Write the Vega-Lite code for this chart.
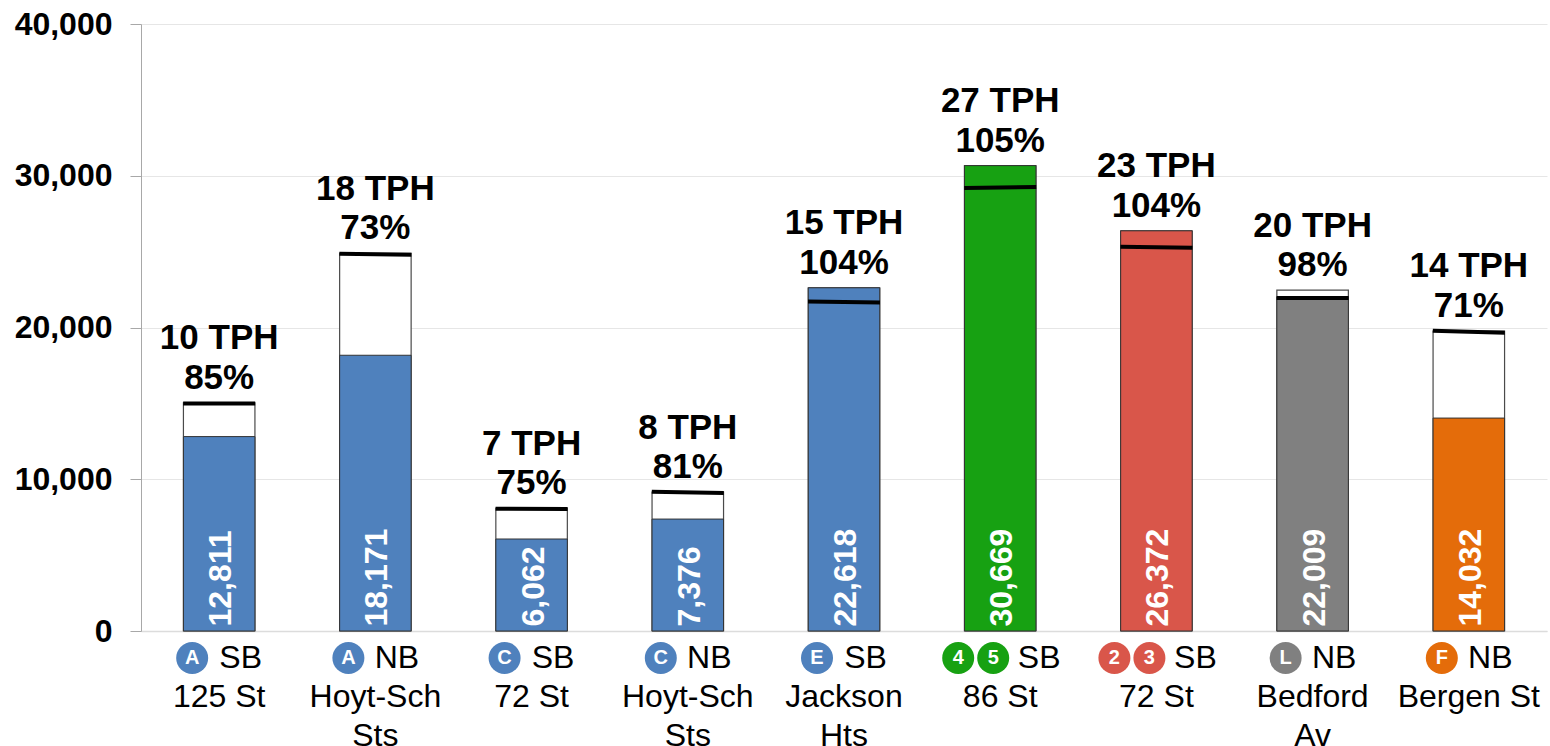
{
  "$schema": "https://vega.github.io/schema/vega-lite/v6.json",
  "width": 1406,
  "height": 607,
  "autosize": "none",
  "padding": {"left": 141, "top": 24, "right": 3, "bottom": 115},
  "background": "white",
  "config": {"font": "Liberation Sans", "view": {"stroke": null}},
  "datasets": {
    "stops": [
      {"stop": "A SB|125 St", "group": "ACE", "dir": "SB", "routes": 1, "load": 12811, "top": 15030, "note": "10 TPH\n85%"},
      {"stop": "A NB|Hoyt-Sch|Sts", "group": "ACE", "dir": "NB", "routes": 1, "load": 18171, "top": 24892, "note": "18 TPH\n73%"},
      {"stop": "C SB|72 St", "group": "ACE", "dir": "SB", "routes": 1, "load": 6062, "top": 8083, "note": "7 TPH\n75%"},
      {"stop": "C NB|Hoyt-Sch|Sts", "group": "ACE", "dir": "NB", "routes": 1, "load": 7376, "top": 9150, "note": "8 TPH\n81%"},
      {"stop": "E SB|Jackson|Hts", "group": "ACE", "dir": "SB", "routes": 1, "load": 22618, "top": 22618, "note": "15 TPH\n104%"},
      {"stop": "45 SB|86 St", "group": "45", "dir": "SB", "routes": 2, "load": 30669, "top": 30669, "note": "27 TPH\n105%"},
      {"stop": "23 SB|72 St", "group": "23", "dir": "SB", "routes": 2, "load": 26372, "top": 26372, "note": "23 TPH\n104%"},
      {"stop": "L NB|Bedford|Av", "group": "L", "dir": "NB", "routes": 1, "load": 22009, "top": 22458, "note": "20 TPH\n98%"},
      {"stop": "F NB|Bergen St", "group": "F", "dir": "NB", "routes": 1, "load": 14032, "top": 19770, "note": "14 TPH\n71%"}
    ],
    "guideline": [
      {"stop": "A SB|125 St", "edge": "left", "riders": 15000},
      {"stop": "A SB|125 St", "edge": "right", "riders": 15000},
      {"stop": "A NB|Hoyt-Sch|Sts", "edge": "left", "riders": 24860},
      {"stop": "A NB|Hoyt-Sch|Sts", "edge": "right", "riders": 24790},
      {"stop": "C SB|72 St", "edge": "left", "riders": 8060},
      {"stop": "C SB|72 St", "edge": "right", "riders": 8040},
      {"stop": "C NB|Hoyt-Sch|Sts", "edge": "left", "riders": 9180},
      {"stop": "C NB|Hoyt-Sch|Sts", "edge": "right", "riders": 9100},
      {"stop": "E SB|Jackson|Hts", "edge": "left", "riders": 21710},
      {"stop": "E SB|Jackson|Hts", "edge": "right", "riders": 21640},
      {"stop": "45 SB|86 St", "edge": "left", "riders": 29200},
      {"stop": "45 SB|86 St", "edge": "right", "riders": 29260},
      {"stop": "23 SB|72 St", "edge": "left", "riders": 25320},
      {"stop": "23 SB|72 St", "edge": "right", "riders": 25250},
      {"stop": "L NB|Bedford|Av", "edge": "left", "riders": 21950},
      {"stop": "L NB|Bedford|Av", "edge": "right", "riders": 21950},
      {"stop": "F NB|Bergen St", "edge": "left", "riders": 19780},
      {"stop": "F NB|Bergen St", "edge": "right", "riders": 19650}
    ],
    "badges": [
      {"stop": "A SB|125 St", "group": "ACE", "route": "A", "seat": "only", "base": 0},
      {"stop": "A NB|Hoyt-Sch|Sts", "group": "ACE", "route": "A", "seat": "only", "base": 0},
      {"stop": "C SB|72 St", "group": "ACE", "route": "C", "seat": "only", "base": 0},
      {"stop": "C NB|Hoyt-Sch|Sts", "group": "ACE", "route": "C", "seat": "only", "base": 0},
      {"stop": "E SB|Jackson|Hts", "group": "ACE", "route": "E", "seat": "only", "base": 0},
      {"stop": "45 SB|86 St", "group": "45", "route": "4", "seat": "first", "base": 0},
      {"stop": "45 SB|86 St", "group": "45", "route": "5", "seat": "second", "base": 0},
      {"stop": "23 SB|72 St", "group": "23", "route": "2", "seat": "first", "base": 0},
      {"stop": "23 SB|72 St", "group": "23", "route": "3", "seat": "second", "base": 0},
      {"stop": "L NB|Bedford|Av", "group": "L", "route": "L", "seat": "only", "base": 0},
      {"stop": "F NB|Bergen St", "group": "F", "route": "F", "seat": "only", "base": 0}
    ]
  },
  "encoding": {
    "x": {
      "field": "stop",
      "type": "nominal",
      "sort": null,
      "title": null,
      "scale": {
        "type": "band",
        "domain": ["A SB|125 St", "A NB|Hoyt-Sch|Sts", "C SB|72 St", "C NB|Hoyt-Sch|Sts", "E SB|Jackson|Hts", "45 SB|86 St", "23 SB|72 St", "L NB|Bedford|Av", "F NB|Bergen St"],
        "paddingInner": 0.539,
        "paddingOuter": 0.27
      },
      "axis": {
        "labelExpr": "split(slice(datum.value,indexof(datum.value,'|')+1),'|')",
        "labelAngle": 0,
        "labelFontSize": 32,
        "labelColor": "black",
        "labelLineHeight": 39,
        "labelPadding": 50,
        "labelLimit": 400,
        "labelOverlap": false,
        "labelBound": false,
        "ticks": false,
        "domainColor": "#dcdcdc",
        "domainWidth": 1.5,
        "grid": false
      }
    }
  },
  "layer": [
    {
      "data": {"name": "stops"},
      "mark": {"type": "bar", "width": 71.5, "fill": "white", "stroke": "#4a4a4a", "strokeWidth": 1.2},
      "encoding": {
        "y": {
          "field": "top",
          "type": "quantitative",
          "stack": null,
          "title": null,
          "scale": {"domain": [0, 40000], "nice": false},
          "axis": {
            "values": [0, 10000, 20000, 30000, 40000],
            "format": ",.0f",
            "labelFontSize": 32,
            "labelFontWeight": "bold",
            "labelColor": "black",
            "labelPadding": 18,
            "tickSize": 11,
            "tickColor": "#a8a8a8",
            "domainColor": "#a8a8a8",
            "gridColor": "#e6e6e6",
            "gridWidth": 1
          }
        }
      }
    },
    {
      "data": {"name": "stops"},
      "mark": {"type": "bar", "width": 71.5, "stroke": "#333333", "strokeWidth": 1},
      "encoding": {
        "y": {"field": "load", "type": "quantitative", "stack": null},
        "color": {
          "field": "group",
          "type": "nominal",
          "legend": null,
          "scale": {
            "domain": ["ACE", "45", "23", "L", "F"],
            "range": ["#4f81bd", "#17a112", "#d9564a", "#808080", "#e46c0a"]
          }
        }
      }
    },
    {
      "data": {"name": "guideline"},
      "mark": {"type": "line", "color": "black", "strokeWidth": 4},
      "encoding": {
        "xOffset": {
          "field": "edge",
          "type": "nominal",
          "scale": {"type": "point", "domain": ["left", "right"], "padding": 0}
        },
        "y": {"field": "riders", "type": "quantitative"},
        "detail": {"field": "stop"}
      }
    },
    {
      "data": {"name": "stops"},
      "mark": {"type": "text", "angle": 270, "align": "left", "baseline": "middle", "dx": 4.5, "dy": 2, "fontSize": 32, "fontWeight": "bold", "color": "white"},
      "encoding": {
        "y": {"datum": 0, "type": "quantitative"},
        "text": {"field": "load", "type": "quantitative", "format": ",.0f"}
      }
    },
    {
      "data": {"name": "stops"},
      "mark": {"type": "text", "align": "center", "baseline": "bottom", "lineBreak": "\n", "lineHeight": 39.5, "dy": -46.5, "fontSize": 35, "fontWeight": "bold", "color": "black"},
      "encoding": {
        "y": {"field": "top", "type": "quantitative"},
        "text": {"field": "note", "type": "nominal"}
      }
    },
    {
      "data": {"name": "stops"},
      "transform": [{"filter": "datum.routes === 1"}],
      "mark": {"type": "text", "fontSize": 32, "color": "black", "xOffset": 21.5, "yOffset": 27, "baseline": "middle"},
      "encoding": {
        "y": {"datum": 0, "type": "quantitative"},
        "text": {"field": "dir", "type": "nominal"}
      }
    },
    {
      "data": {"name": "stops"},
      "transform": [{"filter": "datum.routes === 2"}],
      "mark": {"type": "text", "fontSize": 32, "color": "black", "xOffset": 39, "yOffset": 27, "baseline": "middle"},
      "encoding": {
        "y": {"datum": 0, "type": "quantitative"},
        "text": {"field": "dir", "type": "nominal"}
      }
    },
    {
      "data": {"name": "badges"},
      "transform": [{"filter": "datum.seat === 'only'"}],
      "layer": [
        {
          "mark": {"type": "point", "shape": "circle", "filled": true, "opacity": 1, "size": 1024, "xOffset": -27, "yOffset": 27},
          "encoding": {
            "y": {"field": "base", "type": "quantitative"},
            "color": {"field": "group", "type": "nominal", "legend": null}
          }
        },
        {
          "mark": {"type": "text", "fontSize": 20, "fontWeight": "bold", "color": "white", "xOffset": -27, "yOffset": 27, "baseline": "middle"},
          "encoding": {
            "y": {"field": "base", "type": "quantitative"},
            "text": {"field": "route", "type": "nominal"}
          }
        }
      ]
    },
    {
      "data": {"name": "badges"},
      "transform": [{"filter": "datum.seat === 'first'"}],
      "layer": [
        {
          "mark": {"type": "point", "shape": "circle", "filled": true, "opacity": 1, "size": 1024, "xOffset": -42, "yOffset": 27},
          "encoding": {
            "y": {"field": "base", "type": "quantitative"},
            "color": {"field": "group", "type": "nominal", "legend": null}
          }
        },
        {
          "mark": {"type": "text", "fontSize": 20, "fontWeight": "bold", "color": "white", "xOffset": -42, "yOffset": 27, "baseline": "middle"},
          "encoding": {
            "y": {"field": "base", "type": "quantitative"},
            "text": {"field": "route", "type": "nominal"}
          }
        }
      ]
    },
    {
      "data": {"name": "badges"},
      "transform": [{"filter": "datum.seat === 'second'"}],
      "layer": [
        {
          "mark": {"type": "point", "shape": "circle", "filled": true, "opacity": 1, "size": 1024, "xOffset": -7, "yOffset": 27},
          "encoding": {
            "y": {"field": "base", "type": "quantitative"},
            "color": {"field": "group", "type": "nominal", "legend": null}
          }
        },
        {
          "mark": {"type": "text", "fontSize": 20, "fontWeight": "bold", "color": "white", "xOffset": -7, "yOffset": 27, "baseline": "middle"},
          "encoding": {
            "y": {"field": "base", "type": "quantitative"},
            "text": {"field": "route", "type": "nominal"}
          }
        }
      ]
    }
  ]
}
